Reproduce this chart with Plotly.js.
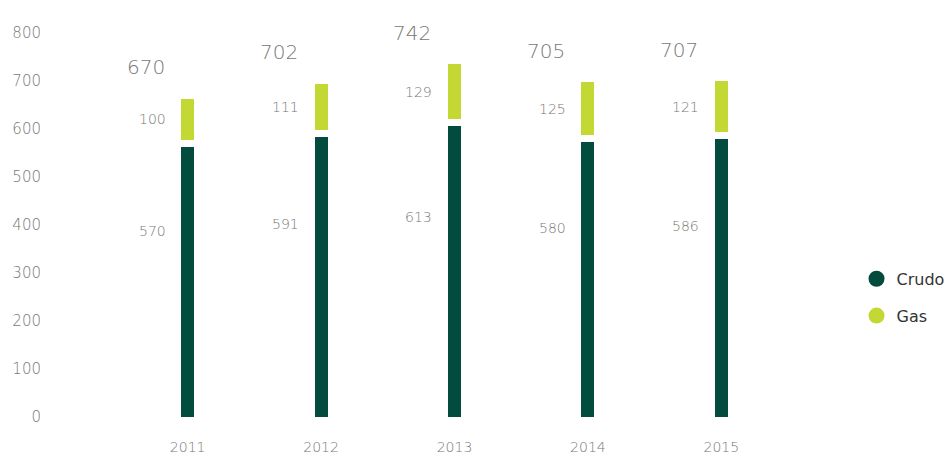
<!DOCTYPE html>
<html><head><meta charset="utf-8">
<script src="https://cdn.plot.ly/plotly-3.0.1.min.js"></script>
<style>html,body{margin:0;padding:0;background:#fff}#chart{width:949px;height:456px}</style>
</head><body><div id="chart"></div>
<script>
const years = ['2011','2012','2013','2014','2015'];
const crudo = [570, 591, 613, 580, 586];
const gas = [100, 111, 129, 125, 121];
const totals = [670, 702, 742, 705, 707];
const yTicks = [0,100,200,300,400,500,600,700,800];

const cCrudo = '#024b3d', cGas = '#c3d832';
const labelColor = '#777777';
const font = 'DejaVu Sans, Liberation Sans, sans-serif';

const traces = [
  {type:'bar', x:years, y:crudo, width:0.0975, marker:{color:cCrudo}, showlegend:false, hoverinfo:'skip'},
  {type:'bar', x:years, y:gas, width:0.15, marker:{color:cGas, line:{color:'#ffffff', width:7}}, showlegend:false, hoverinfo:'skip'},
  {type:'scatter', mode:'markers', x:[null], y:[null], name:'Crudo', legendgroup:'a', marker:{color:cCrudo, size:16, symbol:'circle'}},
  {type:'scatter', mode:'markers', x:[null], y:[null], name:'Gas', legendgroup:'b', marker:{color:cGas, size:16, symbol:'circle'}}
];

const lf = {family:font, size:14, color:labelColor, weight:200};
const annotations = [];
years.forEach((yr, i) => {
  annotations.push({x:i, y:crudo[i]*0.68, xref:'x', yref:'y', text:String(crudo[i]), showarrow:false,
    xanchor:'right', xshift:-20, font:lf});
  annotations.push({x:i, y:crudo[i]+gas[i]/2, xref:'x', yref:'y', text:String(gas[i]), showarrow:false,
    xanchor:'right', xshift:-20, font:lf});
  annotations.push({x:i, y:totals[i], xref:'x', yref:'y', text:String(totals[i]), showarrow:false,
    xanchor:'center', yanchor:'bottom', xshift:-42, yshift:14, font:{family:font, size:20, color:labelColor, weight:200}});
});

const layout = {
  width:949, height:456,
  margin:{l:48, r:161, t:33, b:39, autoexpand:false},
  paper_bgcolor:'#fff', plot_bgcolor:'#fff',
  barmode:'stack',
  bargap:0,
  font:{family:font, color:labelColor},
  xaxis:{type:'category', range:[-1.047, 4.5], showgrid:false, zeroline:false, showline:false, ticks:'',
    tickfont:{family:font, size:14, color:labelColor, weight:200}, ticklabelstandoff:20, automargin:false, fixedrange:true},
  yaxis:{range:[0,800], tickvals:yTicks, showgrid:false, zeroline:false, showline:false, ticks:'',
    tickfont:{family:font, size:15, color:labelColor, weight:200}, ticklabelstandoff:6, automargin:false, fixedrange:true},
  showlegend:true,
  legend:{x:1.0926, y:0.404, xanchor:'left', yanchor:'top', traceorder:'grouped', tracegroupgap:13,
    font:{family:font, size:16, color:'#333'}, bgcolor:'rgba(0,0,0,0)'},
  annotations:annotations
};

Plotly.newPlot('chart', traces, layout, {displayModeBar:false, staticPlot:true});
</script>
</body></html>
